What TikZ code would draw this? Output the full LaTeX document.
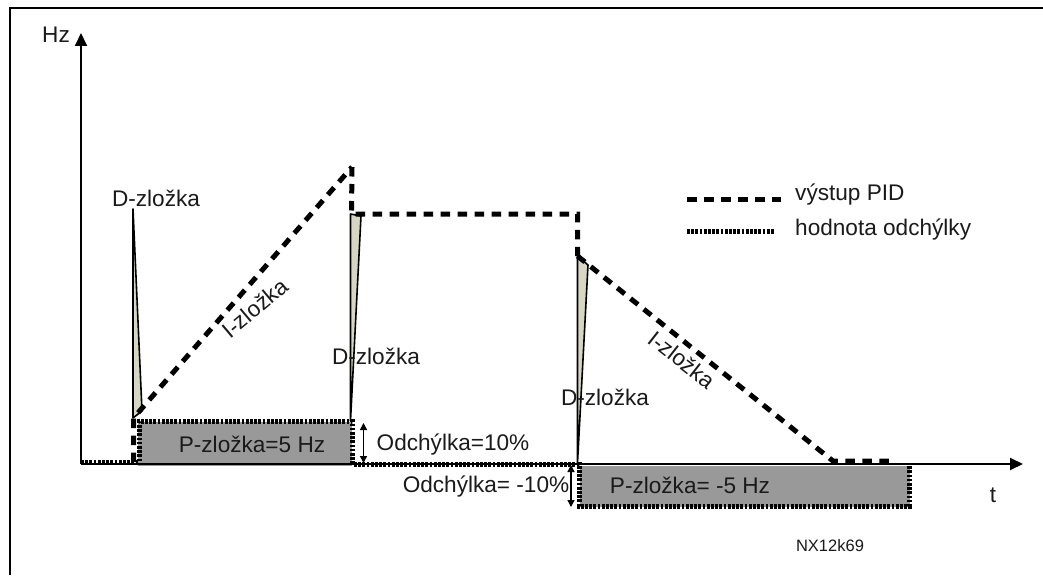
\documentclass[tikz,border=0pt]{standalone}
\usepackage{fontspec}
\setmainfont{Liberation Sans}
\usetikzlibrary{arrows.meta}
\definecolor{tan}{HTML}{D6D6C2}
\definecolor{boxgray}{HTML}{999999}
\definecolor{ink}{HTML}{1A1A1A}
\tikzset{
  txt/.style={inner sep=0pt,text=ink,font=\fontsize{22.6}{25}\selectfont},
  small/.style={inner sep=0pt,text=ink,font=\fontsize{16.5}{19}\selectfont},
  pid/.style={line width=5pt,dash pattern=on 9.5pt off 7.5pt},
  dev/.style={line width=5pt,dash pattern=on 2.7pt off 1.5pt},
  axis/.style={line width=1.8pt,-{Triangle[length=13pt,width=12pt]}},
  dpart/.style={draw=black,line width=1.6pt,fill=tan,line join=round},
  err/.style={line width=1.3pt,{Triangle[length=7pt,width=7pt]}-{Triangle[length=7pt,width=7pt]}},
  pbox/.style={fill=boxgray,draw=none,inner sep=0pt,minimum width=0pt},
}
\begin{document}
\begin{tikzpicture}[x=1pt,y=-1pt]
\useasboundingbox (0,0) rectangle (1043,575);
\fill[white] (0,0) rectangle (1043,575);
% frame
\coordinate (fbl) at (10,575);
\coordinate (ftl) at (10,8);
\coordinate (ftr) at (1043,8);
\draw[line width=2pt] (fbl) -- (ftl) -- (ftr);
% boxes
\node[pbox,minimum width=214pt,minimum height=44pt] (pa) at (245,444) {};
\node[pbox,minimum width=330pt,minimum height=41pt] (pb) at (745,486.5) {};
% D parts
\coordinate (d1a) at (133,209);
\coordinate (d1b) at (142,411);
\coordinate (d1c) at (133,418);
\draw[dpart] (d1a) -- (d1b) -- (d1c) -- cycle;
\coordinate (d2a) at (350.5,214);
\coordinate (d2b) at (361,216);
\coordinate (d2c) at (350.5,421);
\draw[dpart] (d2a) -- (d2b) -- (d2c) -- cycle;
\coordinate (d3a) at (577.5,256);
\coordinate (d3b) at (588,265);
\coordinate (d3c) at (577.5,463);
\draw[dpart] (d3a) -- (d3b) -- (d3c) -- cycle;
% axes
\coordinate (o) at (81,464);
\coordinate (yt) at (81,33);
\coordinate (xt) at (1023,464);
\draw[axis] (o) -- (yt);
\draw[axis] (o) -- (xt);
% deviation
\coordinate (e0) at (81,462);
\coordinate (e1) at (139,462);
\coordinate (e2) at (139,421);
\coordinate (e3) at (352.5,421);
\coordinate (e4) at (352.5,464);
\coordinate (e5) at (579,464);
\coordinate (e6) at (579,506);
\coordinate (e7) at (909,506);
\coordinate (e8) at (909,466);
\draw[dev] (e0) -- (e1) -- (e2) -- (e3) -- (e4) -- (e5) -- (e6) -- (e7) -- (e8);
% PID output
\coordinate (p0) at (133.5,462);
\coordinate (p1) at (133.5,418);
\coordinate (p2) at (352,167);
\coordinate (p3) at (351.5,214);
\coordinate (p4) at (577.5,214);
\coordinate (p5) at (577.5,256);
\coordinate (p6) at (833,461);
\coordinate (p7) at (895,461);
\draw[pid] (p0) -- (p1) -- (p2);
\draw[pid] (p2) -- (p3) -- (p4) -- (p5);
\draw[pid] (p5) -- (p6) -- (p7);
% deviation arrows
\coordinate (a1) at (363.5,423);
\coordinate (a2) at (363.5,463);
\coordinate (a3) at (571,465);
\coordinate (a4) at (571,507);
\draw[err] (a1) -- (a2);
\draw[err] (a3) -- (a4);
% legend
\coordinate (l1) at (687,199);
\coordinate (l2) at (781,199);
\coordinate (l3) at (687,231);
\coordinate (l4) at (775,231);
\draw[pid] (l1) -- (l2);
\draw[dev] (l3) -- (l4);
% labels
\node[txt] (hz) at (56,35) {Hz};
\node[txt] (dz1) at (156,198) {D-zložka};
\node[txt] (dz2) at (376,356) {D-zložka};
\node[txt] (dz3) at (605,397) {D-zložka};
\node[txt,rotate=40] (iz1) at (255,308) {I-zložka};
\node[txt,rotate=-38] (iz2) at (682,360) {I-zložka};
\node[txt] (pz1) at (252,444) {P-zložka=5 Hz};
\node[txt] (pz2) at (690,485) {P-zložka= -5 Hz};
\node[txt] (od1) at (453,445) {Odchýlka=10\%};
\node[txt] (od2) at (486,487) {Odchýlka= -10\%};
\node[txt] (tl) at (993,495) {t};
\node[small] (nx) at (830,546) {NX12k69};
\node[txt,anchor=west] (lg1) at (795,195) {výstup PID};
\node[txt,anchor=west] (lg2) at (795,230) {hodnota odchýlky};
\end{tikzpicture}
\end{document}
